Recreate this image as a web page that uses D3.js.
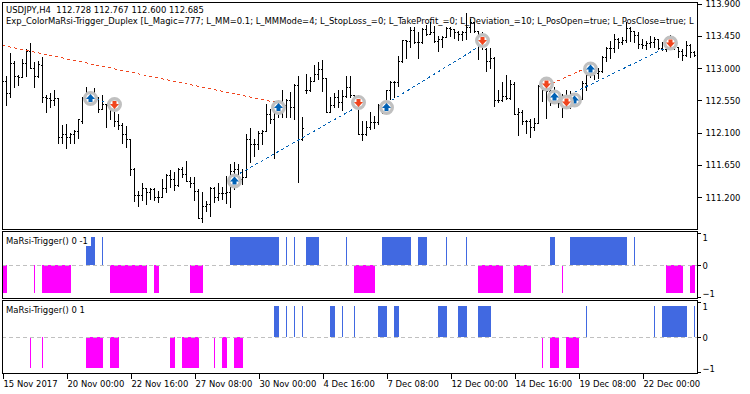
<!DOCTYPE html>
<html>
<head>
<meta charset="utf-8">
<script src="https://d3js.org/d3.v7.min.js"></script>
<style>
html, body { margin: 0; padding: 0; background: #fff; }
svg { display: block; }
text { font-family: "DejaVu Sans Condensed", "DejaVu Sans", sans-serif; font-size: 9.4px; fill: #000; }
</style>
</head>
<body>
<div id="chart-area"></div>
<script>
// USDJPY H4 bars, one per 4 px on screen
var opens = [112.861,112.805,112.638,113.056,112.875,112.861,113.056,113.224,113.000,112.875,113.028,112.582,112.568,112.540,112.568,112.024,112.079,112.024,112.079,112.107,112.247,112.568,112.638,112.610,112.582,112.414,112.484,112.470,112.456,112.247,
112.191,112.079,111.996,111.578,111.215,111.215,111.312,111.256,111.298,111.187,111.187,111.312,111.494,111.438,111.354,111.578,111.508,111.410,111.382,111.270,110.894,111.061,111.089,111.312,111.187,111.242,111.242,111.256,111.550,111.578,
111.438,111.466,111.996,111.926,111.926,112.093,112.107,112.345,112.275,112.428,112.498,112.470,112.540,112.442,112.749,111.996,112.693,112.680,112.805,112.903,112.973,112.847,112.386,112.470,112.582,112.512,112.596,112.721,112.610,112.554,
112.079,112.079,112.163,112.233,112.233,112.470,112.442,112.680,112.791,112.791,113.084,113.377,113.363,113.517,113.349,113.349,113.531,113.461,113.489,113.363,113.391,113.419,113.558,113.544,113.489,113.461,113.489,113.572,113.628,113.503,
113.391,113.252,113.084,113.126,112.540,112.540,112.596,112.568,112.763,112.345,112.373,112.247,112.247,112.163,112.219,112.735,112.693,112.666,112.610,112.596,112.498,112.554,112.540,112.484,112.610,112.554,112.777,112.889,113.000,112.917,
112.945,113.140,113.279,113.279,113.391,113.349,113.377,113.558,113.503,113.447,113.321,113.307,113.335,113.349,113.391,113.279,113.252,113.363,113.335,113.293,113.224,113.168,113.307,113.210];
var highs = [112.889,112.875,113.196,113.084,112.889,113.112,113.265,113.335,113.070,113.084,113.140,112.610,112.638,112.680,112.568,112.191,112.205,112.093,112.121,112.275,112.582,112.721,112.652,112.707,112.582,112.610,112.484,112.554,112.484,112.345,
112.219,112.177,111.996,111.591,111.270,111.382,111.312,111.312,111.312,111.270,111.438,111.508,111.564,111.536,111.591,111.605,111.689,111.466,111.466,111.298,111.256,111.131,111.326,111.326,111.382,111.326,111.480,111.647,111.675,111.647,
111.578,112.066,112.149,111.996,112.107,112.121,112.484,112.414,112.526,112.540,112.693,112.554,112.652,112.763,112.875,112.303,112.903,112.861,113.028,113.070,113.098,112.847,112.582,112.638,112.693,112.693,112.875,112.875,112.610,112.610,
112.247,112.247,112.373,112.317,112.484,112.484,112.693,112.805,112.805,113.154,113.377,113.377,113.572,113.572,113.489,113.558,113.600,113.628,113.586,113.433,113.433,113.572,113.572,113.544,113.503,113.503,113.754,113.670,113.628,113.503,
113.489,113.279,113.279,113.140,112.693,112.791,112.889,112.819,112.791,112.428,112.400,112.261,112.275,112.289,112.749,112.749,112.777,112.763,112.721,112.624,112.624,112.693,112.666,112.638,112.624,112.805,112.931,113.056,113.056,113.000,
113.154,113.293,113.363,113.461,113.405,113.419,113.628,113.572,113.503,113.489,113.391,113.363,113.433,113.419,113.391,113.349,113.419,113.447,113.391,113.293,113.252,113.363,113.321,113.224];
var lows = [112.721,112.470,112.582,112.721,112.749,112.861,112.875,112.987,112.721,112.861,112.512,112.386,112.442,112.470,111.940,111.940,111.870,111.940,111.940,112.010,112.219,112.568,112.512,112.526,112.386,112.414,112.163,112.275,112.177,112.135,
111.940,111.884,111.494,111.131,111.061,111.145,111.089,111.159,111.145,111.117,111.187,111.256,111.326,111.284,111.340,111.466,111.410,111.326,111.145,110.894,110.838,110.992,110.922,111.117,111.145,111.159,111.103,111.047,111.298,111.354,
111.368,111.466,111.675,111.759,111.857,111.926,112.107,112.219,111.731,112.303,112.303,112.303,112.303,112.275,111.396,111.982,112.638,112.666,112.805,112.833,112.666,112.373,112.373,112.442,112.442,112.400,112.582,112.582,112.512,112.079,
111.982,112.052,112.135,112.149,112.205,112.359,112.442,112.554,112.582,112.735,113.070,113.126,113.293,113.335,113.126,113.335,113.447,113.461,113.349,113.224,113.293,113.419,113.433,113.405,113.377,113.377,113.391,113.489,113.489,113.112,
113.252,112.945,113.000,112.456,112.512,112.526,112.554,112.554,112.345,112.052,112.205,112.093,112.024,112.121,112.219,112.526,112.289,112.470,112.526,112.442,112.303,112.442,112.428,112.470,112.470,112.554,112.693,112.861,112.833,112.847,
112.931,113.084,113.126,113.210,113.279,113.321,113.349,113.363,113.349,113.279,113.279,113.265,113.293,113.293,113.252,113.238,113.224,113.279,113.252,113.140,113.098,113.154,113.140,113.154];
var closes = [112.805,112.638,113.056,112.875,112.861,113.056,113.224,113.000,112.875,113.042,112.582,112.568,112.540,112.568,112.024,112.079,112.024,112.079,112.107,112.275,112.568,112.638,112.610,112.582,112.414,112.484,112.470,112.456,112.247,112.191,
112.079,111.996,111.578,111.215,111.215,111.312,111.256,111.298,111.187,111.187,111.312,111.494,111.438,111.354,111.578,111.508,111.410,111.382,111.270,110.894,111.061,111.089,111.312,111.187,111.242,111.242,111.256,111.550,111.578,111.438,
111.466,111.996,111.926,111.926,112.093,112.107,112.345,112.275,112.428,112.498,112.470,112.540,112.442,112.749,111.996,112.149,112.680,112.805,112.903,112.973,112.847,112.386,112.470,112.582,112.512,112.596,112.721,112.610,112.554,112.079,
112.079,112.163,112.233,112.233,112.470,112.442,112.680,112.791,112.791,113.084,113.377,113.363,113.517,113.349,113.349,113.531,113.461,113.489,113.363,113.391,113.419,113.558,113.544,113.489,113.461,113.489,113.572,113.628,113.503,113.391,
113.321,113.084,113.126,112.540,112.540,112.596,112.568,112.763,112.345,112.373,112.247,112.247,112.163,112.219,112.735,112.693,112.666,112.610,112.596,112.498,112.554,112.540,112.484,112.610,112.554,112.777,112.889,113.000,112.917,112.945,
113.140,113.279,113.279,113.391,113.349,113.377,113.558,113.503,113.447,113.321,113.307,113.335,113.349,113.391,113.279,113.252,113.363,113.335,113.293,113.224,113.168,113.307,113.210,113.168];

var priceTicks = [113.9,113.45,113.0,112.55,112.1,111.65,111.2];
var timeTickBars = [0,16,32,48,64,80,96,112,128,144,160];
var timeTickLabels = ["15 Nov 2017","20 Nov 00:00","22 Nov 16:00","27 Nov 08:00","30 Nov 00:00","4 Dec 16:00","7 Dec 08:00","12 Dec 00:00","14 Dec 16:00","19 Dec 08:00","22 Dec 00:00"];

// trades: [bar, price]
var buyMarks = [[22,112.575],[58,111.424],[69,112.449],[96,112.449],[138,112.596],[143,112.554],[147,112.987]];
var sellMarks = [[28,112.491],[89,112.519],[120,113.384],[136,112.777],[141,112.526],[167,113.349]];
// [bar, price, bar, price]
var sellLines = [[0,113.314,69,112.512],[136,112.749,147,113.028]];
var buyLines = [[22,112.596,28,112.470],[58,111.487,89,112.470],[96,112.505,120,113.327],[138,112.666,141,112.484],[143,112.660,167,113.313]];

// signal blocks, first and last bar
var trigger1Up = [[21,23],[25,25],[57,69],[71,71],[73,73],[76,79],[86,86],[95,102],[104,106],[111,111],[116,116],[137,138],[142,156],[158,158]];
var trigger1Down = [[0,1],[8,8],[10,17],[27,36],[38,39],[47,50],[88,93],[119,125],[128,132],[140,140],[166,170],[172,173]];
var trigger2Up = [[68,69],[71,71],[73,73],[75,75],[82,83],[85,85],[88,88],[94,96],[98,99],[109,111],[114,116],[119,122],[146,146],[163,163],[165,171],[173,173]];
var trigger2Down = [[7,7],[10,10],[21,25],[27,29],[42,43],[45,49],[53,53],[55,56],[58,60],[135,135],[137,139],[141,144]];

var width = 750, height = 394;
var left = 2, right = 697;
var blue = "#4169e1", pink = "#ff00ff", buyColor = "#0061b5", sellColor = "#f0451e", ringColor = "#c0c0c0";

var svg = d3.select("#chart-area").append("svg")
  .attr("width", width)
  .attr("height", height);

var x = d3.scaleLinear().domain([0, 173]).range([left + 0.5, 694.5]);
var y = d3.scaleLinear().domain([111.2, 113.9]).range([197, 3.5]);

// main window
svg.append("defs").append("clipPath").attr("id", "main-clip")
  .append("rect").attr("x", left).attr("y", 2).attr("width", right - left).attr("height", 227);

var main = svg.append("g").attr("clip-path", "url(#main-clip)");

var snap = function(v) { return Math.round(y(v) - 0.5) + 0.5; };

var bars = main.append("g").attr("shape-rendering", "crispEdges").attr("stroke", "#000")
  .selectAll("g").data(d3.range(opens.length)).enter().append("g");

bars.append("line")
  .attr("x1", d => x(d)).attr("x2", d => x(d))
  .attr("y1", d => snap(highs[d]) - 0.5).attr("y2", d => snap(lows[d]) + 0.5);
bars.append("line")
  .attr("x1", d => x(d) - 1.5).attr("x2", d => x(d))
  .attr("y1", d => snap(opens[d])).attr("y2", d => snap(opens[d]));
bars.append("line")
  .attr("x1", d => x(d)).attr("x2", d => x(d) + 1.5)
  .attr("y1", d => snap(closes[d])).attr("y2", d => snap(closes[d]));

function tradeLines(rows, color) {
  main.append("g").selectAll("line").data(rows).enter().append("line")
    .attr("x1", d => x(d[0])).attr("y1", d => y(d[1]))
    .attr("x2", d => x(d[2])).attr("y2", d => y(d[3]))
    .attr("stroke", color)
    .attr("stroke-dasharray", "3 3")
    .attr("shape-rendering", "crispEdges");
}
tradeLines(sellLines, sellColor);
tradeLines(buyLines, buyColor);

var upArrow = "M0,-4.5L4.5,0.5L2,0.5L2,3.5L-2,3.5L-2,0.5L-4.5,0.5Z";
var downArrow = "M0,4.5L4.5,-0.5L2,-0.5L2,-3.5L-2,-3.5L-2,-0.5L-4.5,-0.5Z";

function tradeMarks(rows, arrow, color) {
  var m = main.append("g").selectAll("g").data(rows).enter().append("g")
    .attr("transform", d => "translate(" + x(d[0]) + "," + y(d[1]) + ")");
  m.append("circle").attr("r", 5.8).attr("fill", "#fff")
    .attr("stroke", ringColor).attr("stroke-width", 3.4);
  m.append("path").attr("d", arrow).attr("fill", color);
}
tradeMarks(buyMarks, upArrow, buyColor);
tradeMarks(sellMarks, downArrow, sellColor);

main.append("text").attr("x", 6).attr("y", 13).attr("xml:space", "preserve")
  .text("USDJPY,H4  112.728 112.767 112.600 112.685");
main.append("text").attr("x", 6).attr("y", 24)
  .text("Exp_ColorMaRsi-Trigger_Duplex [L_Magic=777; L_MM=0.1; L_MMMode=4; L_StopLoss_=0; L_TakeProfit_=0; L_Deviation_=10; L_PosOpen=true; L_PosClose=true; L");

svg.append("g").attr("class", "y axis")
  .attr("transform", "translate(" + (right + 0.5) + ",0)")
  .call(d3.axisRight(y).tickValues(priceTicks).tickSize(4).tickPadding(4).tickFormat(d3.format(".3f")))
  .call(g => g.select(".domain").remove())
  .call(g => g.selectAll("line").attr("shape-rendering", "crispEdges"));

function frame(top, bottom) {
  svg.append("rect")
    .attr("x", left + 0.5).attr("y", top + 0.5)
    .attr("width", right - left).attr("height", bottom - top)
    .attr("fill", "none").attr("stroke", "#000").attr("shape-rendering", "crispEdges");
}

// indicator windows
function triggerPanel(top, bottom, plus, minus, ups, downs, label) {
  var s = d3.scaleLinear().domain([-1, 1]).range([minus, plus]);
  var g = svg.append("g");
  g.append("g").selectAll("rect").data(ups).enter().append("rect")
    .attr("x", d => x(d[0]) - 0.5).attr("width", d => x(d[1]) - x(d[0]) + 1)
    .attr("y", s(1)).attr("height", s(0) - s(1)).attr("fill", blue);
  g.append("g").selectAll("rect").data(downs).enter().append("rect")
    .attr("x", d => x(d[0]) - 0.5).attr("width", d => x(d[1]) - x(d[0]) + 1)
    .attr("y", s(0)).attr("height", s(-1) - s(0)).attr("fill", pink);
  g.append("line")
    .attr("x1", left).attr("x2", right)
    .attr("y1", s(0) + 0.5).attr("y2", s(0) + 0.5)
    .attr("stroke", ringColor).attr("stroke-dasharray", "4 3")
    .attr("shape-rendering", "crispEdges");
  g.append("rect").attr("x", left + 1).attr("y", top + 1).attr("width", 88).attr("height", 14).attr("fill", "#fff");
  g.append("text").attr("x", 6).attr("y", top + 13).text(label);

  svg.append("g").attr("transform", "translate(" + (right + 0.5) + ",0)")
    .call(d3.axisRight(s).tickValues([-1, 0, 1]).tickSize(0).tickPadding(5).tickFormat(d3.format("d")))
    .call(g => g.select(".domain").remove());
  svg.append("g").selectAll("line").data([top + 2, s(0), bottom - 1]).enter().append("line")
    .attr("x1", right).attr("x2", right + 4)
    .attr("y1", d => Math.round(d) + 0.5).attr("y2", d => Math.round(d) + 0.5)
    .attr("stroke", "#000").attr("shape-rendering", "crispEdges");
  frame(top, bottom);
}

frame(2, 229);
triggerPanel(231, 298, 237, 293, trigger1Up, trigger1Down, "MaRsi-Trigger() 0 -1");
triggerPanel(300, 373, 306, 368, trigger2Up, trigger2Down, "MaRsi-Trigger() 0 1");

// time axis shares the bar scale
svg.append("g").attr("class", "x axis")
  .attr("transform", "translate(0,373.5)")
  .call(d3.axisBottom(x).tickValues(timeTickBars).tickSize(5).tickPadding(2)
    .tickFormat((d, i) => timeTickLabels[i]))
  .call(g => g.select(".domain").remove())
  .call(g => g.selectAll("line").attr("shape-rendering", "crispEdges"))
  .call(g => g.selectAll("text").attr("text-anchor", "start").attr("dx", 0.5));
</script>
</body>
</html>
